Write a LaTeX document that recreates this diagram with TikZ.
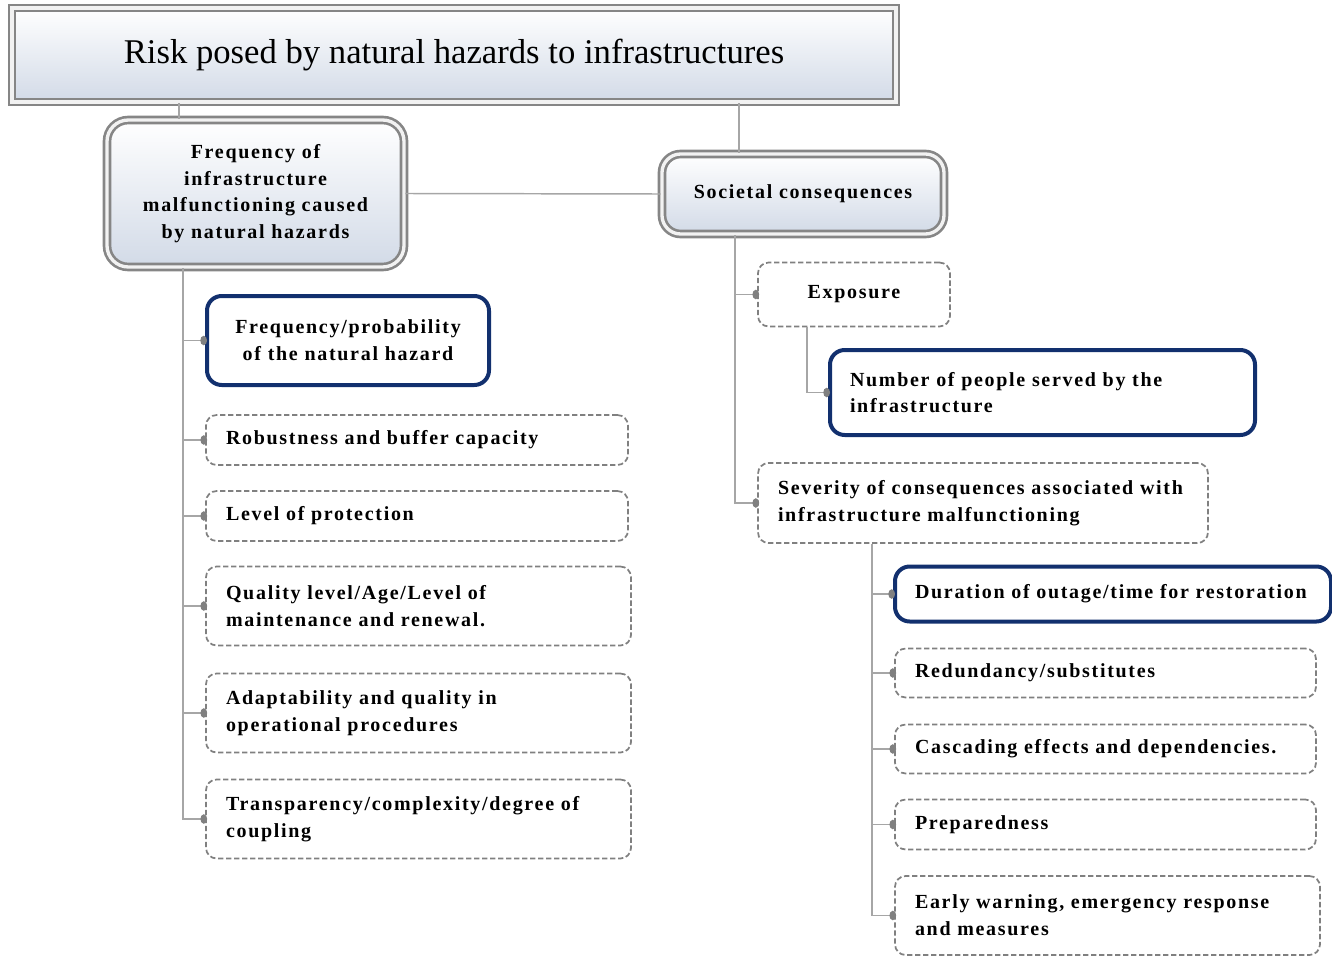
\documentclass[tikz,border=0pt]{standalone}
\usepackage{fontspec}
\setmainfont{Liberation Serif}
\newfontfamily\boxfont{Liberation Serif}[LetterSpace=8.5]
\usetikzlibrary{arrows.meta}
\definecolor{navy}{HTML}{12306E}
\definecolor{linegray}{HTML}{A6A6A6}
\definecolor{dashgray}{HTML}{808080}
\definecolor{shadeblue}{HTML}{D2DAE7}

\begin{document}
\begin{tikzpicture}[x=0.75pt,y=-0.75pt,
    headbox/.style={draw=gray!95,double=gray!10,double distance=2.5pt,line width=2pt,
      top color=white,bottom color=shadeblue,inner sep=0pt},
    keybox/.style={draw=navy,line width=3pt,rounded corners=11pt,fill=white,inner xsep=15pt,inner ysep=2pt},
    itembox/.style={draw=dashgray,line width=1.3pt,dash pattern=on 4pt off 2pt,rounded corners=8pt,
      fill=white,inner xsep=15pt,inner ysep=2pt},
    boxtext/.style={font=\boxfont\fontsize{15}{20}\bfseries\selectfont},
    link/.style={draw=linegray,line width=1.1pt},
    dot/.style={-{Circle[length=5pt,width=7pt,color=dashgray]},shorten >=-1.5pt}]
  \useasboundingbox (0,0) rectangle (1332,956);

  \node[headbox,minimum width=663pt,minimum height=70.5pt,font=\fontsize{26}{30}\selectfont]
    (title) at (454,55) {Risk posed by natural hazards to infrastructures};
  \node[headbox,rounded corners=16pt,boxtext,align=center,minimum width=222.75pt,minimum height=110.25pt]
    (freq) at (255.5,193.5) {Frequency of\\infrastructure\\malfunctioning caused\\by natural hazards};
  \node[headbox,rounded corners=14pt,boxtext,minimum width=211.5pt,minimum height=60pt]
    (soc) at (803,194) {Societal consequences};

  % left branch
  \node[keybox,boxtext,align=center,minimum width=211.5pt,minimum height=66.75pt]
    (f1) at (348,340.5) {Frequency/probability\\of the natural hazard};
  \node[itembox,boxtext,align=left,text width=286.5pt,minimum height=37.5pt]
    (f2) at (417,440) {Robustness and buffer capacity};
  \node[itembox,boxtext,align=left,text width=286.5pt,minimum height=37.5pt]
    (f3) at (417,516) {Level of protection};
  \node[itembox,boxtext,align=left,text width=288.75pt,minimum height=59.25pt]
    (f4) at (418.5,606) {Quality level/Age/Level of\\maintenance and renewal.};
  \node[itembox,boxtext,align=left,text width=288.75pt,minimum height=59.25pt]
    (f5) at (418.5,713) {Adaptability and quality in\\operational procedures};
  \node[itembox,boxtext,align=left,text width=288.75pt,minimum height=59.25pt]
    (f6) at (418.5,819) {Transparency/complexity/degree of\\coupling};

  % right branch
  \node[itembox,boxtext,align=center,minimum width=144pt,minimum height=48pt]
    (exp) at (854,294.5) {Exposure};
  \node[keybox,boxtext,align=left,text width=288.75pt,minimum height=63.75pt]
    (nump) at (1042.5,392.5) {Number of people served by the\\infrastructure};
  \node[itembox,boxtext,align=left,text width=307.5pt,minimum height=60pt]
    (sev) at (983,503) {Severity of consequences associated with\\infrastructure malfunctioning};
  \node[keybox,boxtext,align=left,text width=297pt,minimum height=41.25pt]
    (dur) at (1113,594) {Duration of outage/time for restoration};
  \node[itembox,boxtext,align=left,text width=285.75pt,minimum height=36.75pt]
    (red) at (1105.5,673) {Redundancy/substitutes};
  \node[itembox,boxtext,align=left,text width=285.75pt,minimum height=36.75pt]
    (cas) at (1105.5,749) {Cascading effects and dependencies.};
  \node[itembox,boxtext,align=left,text width=285.75pt,minimum height=37.5pt]
    (prep) at (1105.5,824.5) {Preparedness};
  \node[itembox,boxtext,align=left,text width=288.75pt,minimum height=59.25pt]
    (early) at (1107.5,915.5) {Early warning, emergency response\\and measures};

  % connectors
  \coordinate (ta) at (179,0);
  \coordinate (tb) at (739,0);
  \coordinate (lt) at (183,0);
  \coordinate (rt) at (735,0);
  \coordinate (et) at (807,0);
  \coordinate (st) at (872,0);
  \path[link] (title.south -| ta) -- (ta |- freq.north);
  \path[link] (title.south -| tb) -- (tb |- soc.north);
  \path[link] (freq.east) -- (soc.west);
  \foreach \n in {f1,f2,f3,f4,f5,f6} {
    \path[link,dot] (freq.south -| lt) |- (\n.west);
  }
  \path[link,dot] (soc.south -| rt) |- (exp.west);
  \path[link,dot] (soc.south -| rt) |- (sev.west);
  \path[link,dot] (exp.south -| et) |- (nump.west);
  \foreach \n in {dur,red,cas,prep,early} {
    \path[link,dot] (sev.south -| st) |- (\n.west);
  }
\end{tikzpicture}
\end{document}
